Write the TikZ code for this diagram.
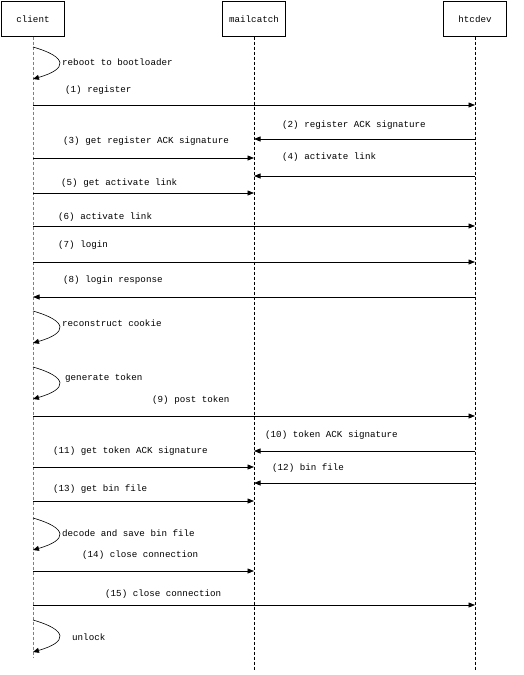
\documentclass[tikz,border=0pt]{standalone}
\usepackage{fontspec}
\setmainfont{Liberation Mono}
\usetikzlibrary{arrows.meta}
\tikzset{ actor/.style = {rectangle, draw, fill=white, minimum width=63pt, minimum height=35pt, inner sep=0pt, font=\fontsize{9.2}{11}\selectfont} }
\tikzset{ life/.style = {dash pattern=on 3pt off 2pt, line width=0.6pt} }
\tikzset{ msg/.style = {line width=0.7pt, -{Triangle[length=6.5pt,width=5pt]}} }
\tikzset{ self/.style = {line width=0.6pt, -{Triangle[length=6pt,width=5pt]}} }
\tikzset{ lbl/.style = {anchor=west, inner sep=0pt, font=\fontsize{9.2}{11}\selectfont} }

\begin{document}
\begin{tikzpicture}[x=1pt,y=-1pt]
    \useasboundingbox (0,0) rectangle (524,675);
    \node[actor] (client) at (33,19) {client};
    \node[actor] (mail) at (254,19) {mailcatch};
    \node[actor] (htc) at (475,19) {htcdev};
    \coordinate (client-end) at (33,657);
    \coordinate (mail-end) at (254,670);
    \coordinate (htc-end) at (475,670);
    \draw[life, gray] (client) -- (client-end);
    \draw[life] (mail) -- (mail-end);
    \draw[life] (htc) -- (htc-end);
    % reboot
    \draw[self] (client |- 0,47) .. controls +(35,10) and +(35,-10) .. (client |- 0,79);
    \node[lbl] (reboot) at (62,62) {reboot to bootloader};
    % register
    \draw[msg] (client |- 0,105) -- (htc |- 0,105);
    \node[lbl] (l1) at (65,90) {(1) register};
    \draw[msg] (htc |- 0,139) -- (mail |- 0,139);
    \node[lbl] (l2) at (282,125) {(2) register ACK signature};
    \draw[msg] (client |- 0,158) -- (mail |- 0,158);
    \node[lbl] (l3) at (63,141) {(3) get register ACK signature};
    \draw[msg] (htc |- 0,176) -- (mail |- 0,176);
    \node[lbl] (l4) at (282,157) {(4) activate link};
    \draw[msg] (client |- 0,193) -- (mail |- 0,193);
    \node[lbl] (l5) at (61,183) {(5) get activate link};
    \draw[msg] (client |- 0,226) -- (htc |- 0,226);
    \node[lbl] (l6) at (58,217) {(6) activate link};
    % login
    \draw[msg] (client |- 0,262) -- (htc |- 0,262);
    \node[lbl] (l7) at (58,245) {(7) login};
    \draw[msg] (htc |- 0,297) -- (client |- 0,297);
    \node[lbl] (l8) at (63,280) {(8) login response};
    \draw[self] (client |- 0,311) .. controls +(35,10) and +(35,-10) .. (client |- 0,343);
    \node[lbl] (cookie) at (62,323) {reconstruct cookie};
    \draw[self] (client |- 0,367) .. controls +(35,10) and +(35,-10) .. (client |- 0,399);
    \node[lbl] (token) at (65,378) {generate token};
    % token
    \draw[msg] (client |- 0,416) -- (htc |- 0,416);
    \node[lbl] (l9) at (152,400) {(9) post token};
    \draw[msg] (htc |- 0,451) -- (mail |- 0,451);
    \node[lbl] (l10) at (265,435) {(10) token ACK signature};
    \draw[msg] (client |- 0,467) -- (mail |- 0,467);
    \node[lbl] (l11) at (53,451) {(11) get token ACK signature};
    \draw[msg] (htc |- 0,483) -- (mail |- 0,483);
    \node[lbl] (l12) at (272,468) {(12) bin file};
    \draw[msg] (client |- 0,501) -- (mail |- 0,501);
    \node[lbl] (l13) at (53,489) {(13) get bin file};
    \draw[self] (client |- 0,518) .. controls +(35,10) and +(35,-10) .. (client |- 0,550);
    \node[lbl] (decode) at (62,533) {decode and save bin file};
    % close
    \draw[msg] (client |- 0,571) -- (mail |- 0,571);
    \node[lbl] (l14) at (82,555) {(14) close connection};
    \draw[msg] (client |- 0,605) -- (htc |- 0,605);
    \node[lbl] (l15) at (105,594) {(15) close connection};
    \draw[self] (client |- 0,620) .. controls +(35,10) and +(35,-10) .. (client |- 0,652);
    \node[lbl] (unlock) at (72,637) {unlock};
\end{tikzpicture}
\end{document}
